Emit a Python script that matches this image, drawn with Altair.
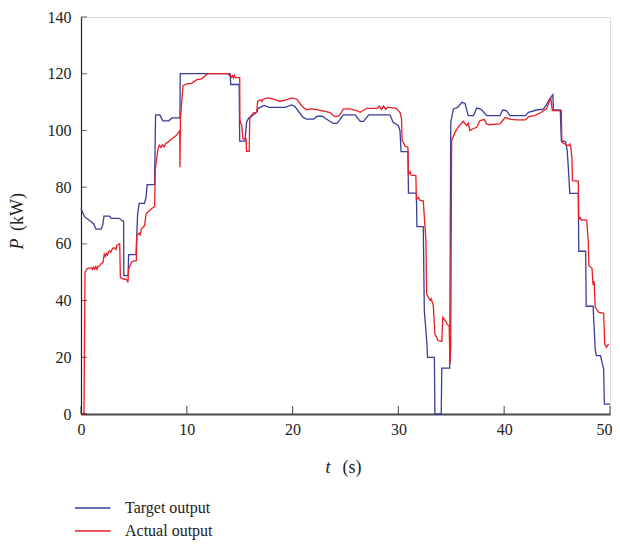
import altair as alt
import pandas as pd

# ---- data ----
target_t = [0, 0.35, 0.97, 1.2, 1.42, 1.9, 2.05, 2.17, 2.7, 2.85, 3.6, 3.95, 4.03, 4.05, 4.45, 4.5, 5.2, 5.35, 5.5,
            6.0, 6.15, 6.25, 6.95, 7.05, 7.45, 7.75, 8.3, 8.6, 9.35, 9.38, 14.1, 14.15, 14.95, 15.0, 15.5, 15.65,
            15.85, 16.0, 16.6, 16.75, 17.3, 17.8, 19.3, 19.9, 20.2, 21.0, 21.3, 22.0, 22.3, 22.8, 23.4, 23.85,
            24.2, 24.8, 25.9, 26.4, 26.7, 27.2, 29.2, 29.5, 30.0, 30.15, 30.25, 30.9, 30.95, 31.7, 31.75, 32.35,
            32.45, 32.7, 32.75, 33.4, 33.45, 34.05, 34.1, 34.85, 34.95, 35.2, 35.6, 36.0, 36.3, 36.6, 37.1, 37.4,
            37.8, 38.35, 39.6, 39.85, 40.2, 40.55, 42.0, 42.3, 43.05, 43.7, 44.0, 44.3, 44.6, 44.65, 45.3, 45.4,
            45.8, 45.95, 46.05, 46.2, 47.0, 47.05, 47.7, 47.75, 48.4, 48.6, 48.7, 49.1, 49.4, 49.47, 50]
target_p = [72.5, 69.5, 67.8, 67.0, 65.2, 65.2, 66.5, 69.8, 69.8, 69.0, 69.0, 68.0, 68.0, 48.8, 48.8, 56.2, 56.2,
            70.5, 74.3, 74.3, 76.5, 80.9, 80.9, 105.5, 105.5, 103.4, 103.4, 104.4, 104.4, 120, 120, 116.2, 116.2,
            96.2, 96.2, 102.9, 104.4, 104.6, 106.4, 107.8, 108.8, 108.1, 108.1, 109.0, 108.5, 104.6, 104.0, 104.0,
            105.0, 105.0, 103.5, 102.5, 102.5, 105.5, 105.5, 103.2, 103.2, 105.5, 105.5, 102.9, 101.7, 99.9, 92.5,
            92.5, 77.9, 77.9, 66.1, 66.1, 36.4, 24.7, 20, 20, 0, 0, 16.2, 16.2, 102.9, 107.6, 108.1, 109.9, 109.5,
            105.2, 105.2, 107.9, 107.5, 105.2, 105.2, 107.2, 107.0, 105.2, 105.2, 106.4, 107.2, 107.5, 109.1,
            111.1, 112.6, 107.2, 107.2, 96.4, 96.0, 93.0, 87.6, 77.8, 77.8, 57.4, 57.4, 38.0, 38.0, 22.9, 20.6,
            20.6, 15.9, 3.5, 3.5]

actual_t = [0, 0.28, 0.38, 0.6, 1.0, 1.1, 1.2, 1.3, 1.4, 1.5, 1.6, 1.77, 1.9, 2.08, 2.2, 2.3, 2.4, 2.5, 2.6, 2.7,
            2.8, 3.0, 3.2, 3.3, 3.4, 3.66, 3.72, 4.0, 4.3, 4.44, 4.5, 4.6, 4.76, 5.0, 5.23, 5.28, 5.5, 5.6, 5.7,
            6.0, 6.15, 6.4, 6.7, 6.96, 7.02, 7.28, 7.4, 7.55, 7.7, 7.85, 8.0, 8.2, 8.5, 9.0, 9.33, 9.35, 9.4,
            9.64, 10.0, 10.46, 10.9, 11.4, 11.9, 12.0, 13.9, 14.2, 14.3, 14.4, 14.5, 14.6, 15.0, 15.02, 15.2,
            15.3, 15.6, 15.65, 15.9, 15.95, 16.3, 16.6, 16.7, 17.0, 17.1, 17.2, 17.7, 18.2, 18.8, 19.4, 19.9,
            20.4, 20.85, 21.3, 21.8, 22.3, 22.7, 23.5, 24.0, 24.4, 24.8, 25.4, 26.05, 26.4, 27.0, 28.0, 28.2,
            28.4, 28.6, 28.8, 29.0, 29.8, 30.15, 30.3, 30.35, 30.5, 30.6, 30.9, 30.95, 31.1, 31.2, 31.65, 31.7,
            31.9, 32.0, 32.35, 32.6, 32.67, 33.0, 33.1, 33.3, 33.45, 33.75, 34.1, 34.2, 34.4, 34.5, 34.6, 34.8,
            34.87, 34.95, 35.03, 35.35, 35.67, 36.13, 36.45, 36.6, 36.77, 37.0, 37.4, 37.7, 38.1, 38.35, 38.6,
            39.6, 40.1, 40.6, 41.2, 42.0, 42.3, 42.9, 43.5, 44.0, 44.4, 44.55, 45.4, 45.45, 46.05, 46.2, 46.3,
            46.4, 46.45, 47.0, 47.05, 47.2, 47.3, 47.8, 47.95, 48.0, 48.3, 48.4, 48.5, 48.6, 48.95, 49.4, 49.5,
            49.67, 49.8, 49.9]
actual_p = [0, 0, 50, 51.3, 51.6, 51.0, 51.8, 51.1, 52.0, 51.0, 52.0, 52.2, 53.0, 53.5, 56.4, 55.6, 56.6, 56.0,
            57.2, 57.5, 57.0, 58.5, 58.6, 58.0, 59.5, 60.0, 48.2, 47.6, 47.5, 46.4, 51.1, 52.0, 53.5, 54.0, 54.1,
            62.9, 63.8, 63.2, 65.2, 66.4, 70.5, 71.5, 72.5, 73.1, 86.4, 93.5, 94.8, 94.0, 95.0, 94.2, 95.4, 95.8,
            96.8, 98.2, 99.9, 87.0, 104.0, 115.8, 116.4, 116.6, 117.8, 118.2, 119.8, 120, 120, 118.7, 119.4,
            118.5, 119.4, 118.6, 118.7, 103.4, 101.7, 97.0, 97.0, 92.6, 92.6, 104.6, 106.2, 106.4, 110.3, 110.8,
            110.2, 111.0, 111.5, 111.0, 110.3, 110.8, 111.5, 111.0, 108.7, 107.3, 107.6, 107.3, 107.0, 106.4,
            104.9, 105.1, 107.6, 107.6, 107.0, 106.4, 107.8, 107.8, 108.6, 107.4, 108.6, 107.4, 108.2, 107.8,
            106.4, 104.0, 96.4, 95.6, 94.6, 94.0, 84.6, 85.4, 84.2, 84.1, 75.8, 76.4, 75.4, 75.2, 61.1, 42.3,
            40.0, 40.6, 38.2, 28.2, 25.9, 25.6, 34.1, 33.0, 32.5, 31.7, 31.0, 17.6, 24.0, 96.4, 99.3, 101.3,
            103.2, 101.7, 102.6, 99.9, 100.5, 101.1, 103.4, 103.9, 102.3, 102.0, 102.3, 104.6, 103.9, 103.7,
            103.7, 104.9, 105.2, 106.4, 107.6, 111.5, 107.0, 107.0, 95.8, 94.6, 95.2, 94.0, 90.5, 82.3, 82.1,
            68.6, 69.2, 68.4, 68.4, 60.5, 52.3, 51.4, 45.5, 46.8, 37.6, 35.8, 35.5, 24.7, 23.5, 24.4, 24.7]

series_names = ["Target output", "Actual output"]
series_colors = ["#3b3d9a", "#ee1c25"]
x_ticks = [0, 10, 20, 30, 40, 50]
y_ticks = [0, 20, 40, 60, 80, 100, 120, 140]

W, H = 529, 397
FONT = "Liberation Serif"

df_target = pd.DataFrame({"t": target_t, "p": target_p, "series": series_names[0],
                          "i": range(len(target_t))})
df_actual = pd.DataFrame({"t": actual_t, "p": actual_p, "series": series_names[1],
                          "i": range(len(actual_t))})

xscale = alt.Scale(domain=[0, 50], nice=False, zero=False)
yscale = alt.Scale(domain=[0, 140], nice=False, zero=False)
xax = alt.Axis(values=x_ticks, title=None, grid=False, ticks=False, tickSize=0, labelPadding=7,
               labelFont=FONT, labelFontSize=16, labelColor="#222", labelFlush=False,
               labelAlign={"condition": {"test": "datum.value == 50", "value": "right"}, "value": "center"},
               labelOffset={"condition": {"test": "datum.value == 50", "value": 2}, "value": 0},
               domainColor="#4a4a4a", domainWidth=2)
yax = alt.Axis(values=y_ticks, title=None, grid=False, ticks=False, tickSize=0, labelPadding=10,
               labelFont=FONT, labelFontSize=16, labelColor="#222", labelFlush=False,
               domainColor="#222", domainWidth=1.2)

color = alt.Color("series:N",
                  scale=alt.Scale(domain=series_names, range=series_colors),
                  legend=alt.Legend(title=None, orient="none", legendX=-14, legendY=483,
                                    symbolType="M0,0H7.1", symbolSize=100, symbolStrokeWidth=1.3,
                                    labelFont=FONT, labelFontSize=16, labelColor="#222",
                                    labelOffset=42, rowPadding=7, padding=0))

def line(df):
    return alt.Chart(df).mark_line(strokeWidth=1.3, interpolate="linear").encode(
        x=alt.X("t:Q", scale=xscale, axis=xax),
        y=alt.Y("p:Q", scale=yscale, axis=yax),
        color=color,
        order="i:Q",
    )

ytick_layer = alt.Chart(pd.DataFrame({"p": y_ticks})).mark_tick(
    orient="horizontal", size=6, thickness=1, color="#222").encode(
    y=alt.Y("p:Q", scale=yscale, axis=yax), x=alt.value(3))
xtick_layer = alt.Chart(pd.DataFrame({"t": x_ticks})).mark_tick(
    orient="vertical", size=8, thickness=1.2, color="#222").encode(
    x=alt.X("t:Q", scale=xscale, axis=xax), y=alt.value(H - 4))

def label(txt, x, y, italic=False, angle=0):
    return alt.Chart(pd.DataFrame({"s": [txt]})).mark_text(
        font=FONT, fontSize=18, fontStyle="italic" if italic else "normal", color="#222",
        align="center", baseline="middle", angle=angle).encode(
        text="s:N", x=alt.value(x), y=alt.value(y))

chart = alt.layer(
    line(df_target), line(df_actual), ytick_layer, xtick_layer,
    label("t", 247, 451, italic=True), label("(s)", 271, 451),
    label("P", -63, 227, italic=True, angle=270), label("(kW)", -63, 195, angle=270),
).properties(
    width=W, height=H,
    autosize=alt.AutoSizeParams(type="none"),
    padding={"left": 73, "top": 9, "right": 2, "bottom": 127},
).configure_view(stroke=None).configure(background="white")

chart.save("out.html", embed_options={"renderer": "svg", "actions": False})
